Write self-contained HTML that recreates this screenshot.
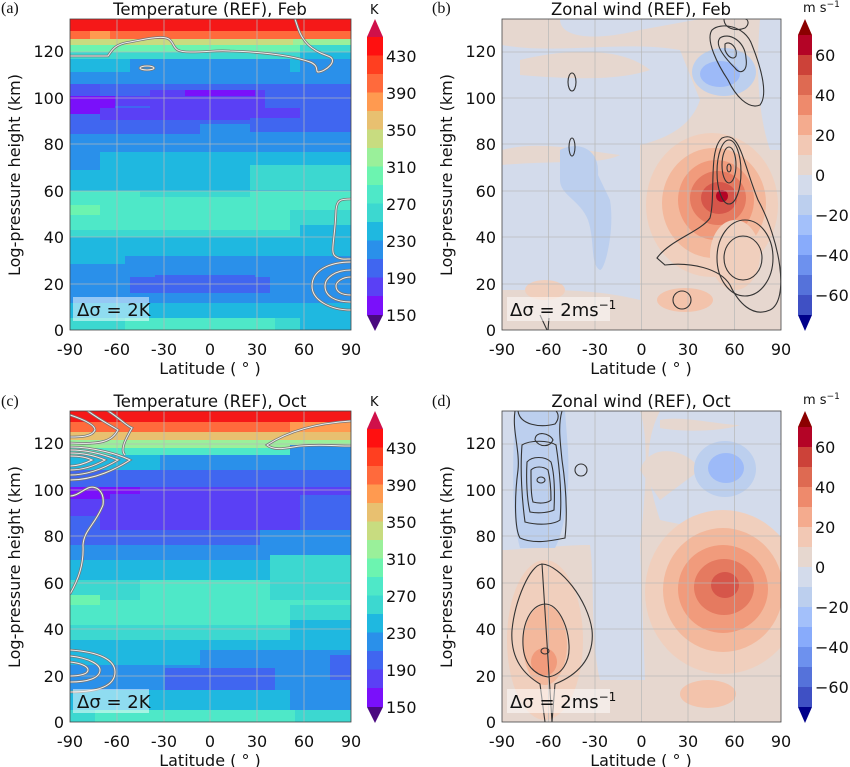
<!DOCTYPE html>
<html><head><meta charset="utf-8"><style>
html,body{margin:0;padding:0;background:#fff;}
svg{display:block;font-family:"DejaVu Sans","Liberation Sans",sans-serif;}
.t{font-size:16px;fill:#111;}
.ti{font-size:16.5px;fill:#111;}
.pl{font-family:"Liberation Serif",serif;font-size:16px;fill:#111;}
.g line{stroke:#b8b8b8;stroke-width:0.8;opacity:0.9}
.wc{fill:none;stroke:#333;stroke-width:1.1}
.tc{fill:none;stroke:#777;stroke-width:2.6}
.tc2{fill:none;stroke:#eee;stroke-width:1}
</style></head><body>
<svg width="850" height="767" viewBox="0 0 850 767" xmlns="http://www.w3.org/2000/svg">
<defs>
<clipPath id="ca"><rect x="70" y="19" width="281" height="311"/></clipPath>
<clipPath id="cb"><rect x="502" y="19" width="279" height="311"/></clipPath>
<clipPath id="cc"><rect x="70" y="411" width="281" height="311"/></clipPath>
<clipPath id="cd"><rect x="502" y="411" width="279" height="311"/></clipPath>
<g id="contA">
<path d="M70 56 L108 56 C112 50,115 44,130 42 C150 38,165 35,170 40 C176 46,172 52,190 52 C210 52,215 50,230 51 C260 52,290 55,310 62 C320 66,315 72,318 72 C325 72,340 60,328 56 C310 50,302 40,298 28 L295 19"/>
<ellipse cx="147" cy="68" rx="7" ry="2"/>
<path d="M351 199 C340 199,337 200,336 210 C335 240,330 252,335 256 C340 260,345 259,351 259"/>
<path d="M351 262 C330 262,312 270,312 286 C312 300,330 310,351 310"/>
<path d="M351 270 C335 270,325 278,325 286 C325 296,335 302,351 302"/>
<path d="M351 277 C342 277,336 282,336 286 C336 292,342 295,351 295"/>
</g>
<g id="contC">
<path d="M70 594 C78 580,84 565,83 545 C84 530,95 525,103 505 C105 490,95 485,88 488 C80 492,76 496,70 496"/>
<path d="M351 421 C320 423,290 430,267 445 C275 452,290 447,300 446 C320 444,335 446,351 446"/>
<path d="M70 447 C95 447,120 455,130 460 C118 468,95 480,70 480"/>
<path d="M70 450 C90 450,108 456,118 460 C108 466,90 475,70 475"/>
<path d="M70 453 C85 453,98 457,105 460 C98 464,85 470,70 470"/>
<path d="M70 456 C80 456,88 458,92 460 C88 462,80 466,70 466"/>
<path d="M85 409 C100 420,110 425,118 430 C112 440,105 445,70 443"/>
<path d="M105 409 C120 418,125 425,132 428 C125 440,120 450,125 455"/>
<path d="M70 415 C85 420,95 425,95 430 C92 437,80 437,70 437"/>
<path d="M70 650 C100 652,115 660,115 672 C115 685,100 692,70 692"/>
<path d="M70 656 C90 658,100 665,100 670 C100 678,88 682,70 682"/>
<path d="M70 662 C80 663,88 666,88 670 C88 674,80 676,70 676"/>
</g>
</defs>

<!-- ============ PANEL A ============ -->
<g clip-path="url(#ca)">
<rect x="70" y="19" width="281" height="12" fill="#f51818"/>
<rect x="70" y="31" width="281" height="8" fill="#ff6a3c"/>
<rect x="90" y="31" width="20" height="8" fill="#ff9a50"/>
<rect x="70" y="39" width="281" height="6" fill="#c8dc80"/>
<rect x="293" y="39" width="58" height="6" fill="#9af09a"/>
<rect x="70" y="45" width="281" height="7" fill="#6cf4b0"/>
<rect x="300" y="45" width="51" height="7" fill="#3cd8d0"/>
<rect x="70" y="52" width="281" height="7" fill="#3cd8d0"/>
<rect x="300" y="52" width="51" height="7" fill="#1fb8e0"/>
<rect x="70" y="59" width="281" height="13" fill="#1fb8e0"/>
<rect x="130" y="59" width="160" height="13" fill="#2a90ea"/>
<rect x="300" y="59" width="51" height="13" fill="#2a90ea"/>
<rect x="70" y="72" width="281" height="12" fill="#2a90ea"/>
<rect x="70" y="84" width="281" height="40" fill="#4066f0"/>
<rect x="70" y="84" width="30" height="12" fill="#4a55f2"/>
<rect x="70" y="96" width="45" height="18" fill="#7a10fa"/>
<rect x="115" y="96" width="40" height="10" fill="#5a40f5"/>
<rect x="150" y="90" width="115" height="18" fill="#5a40f5"/>
<rect x="185" y="90" width="70" height="6" fill="#7a10fa"/>
<rect x="100" y="108" width="200" height="12" fill="#5a40f5"/>
<rect x="70" y="124" width="281" height="20" fill="#2a90ea"/>
<rect x="70" y="124" width="130" height="10" fill="#4066f0"/>
<rect x="250" y="118" width="101" height="14" fill="#4066f0"/>
<rect x="70" y="144" width="281" height="26" fill="#2a90ea"/>
<rect x="100" y="152" width="251" height="18" fill="#1fb8e0"/>
<rect x="70" y="170" width="281" height="21" fill="#1fb8e0"/>
<rect x="250" y="165" width="101" height="25" fill="#3cd8d0"/>
<rect x="70" y="191" width="281" height="39" fill="#4ee8c8"/>
<rect x="140" y="191" width="110" height="6" fill="#3cd8d0"/>
<rect x="70" y="205" width="30" height="10" fill="#6cf4b0"/>
<rect x="290" y="210" width="61" height="20" fill="#3cd8d0"/>
<rect x="70" y="230" width="281" height="7" fill="#3cd8d0"/>
<rect x="300" y="225" width="51" height="12" fill="#1fb8e0"/>
<rect x="70" y="237" width="281" height="19" fill="#1fb8e0"/>
<rect x="70" y="256" width="281" height="21" fill="#2a90ea"/>
<rect x="70" y="256" width="55" height="8" fill="#1fb8e0"/>
<rect x="70" y="277" width="281" height="26" fill="#2a90ea"/>
<rect x="130" y="277" width="140" height="16" fill="#4066f0"/>
<rect x="155" y="275" width="100" height="6" fill="#4066f0"/>
<rect x="70" y="303" width="281" height="15" fill="#1fb8e0"/>
<rect x="70" y="318" width="281" height="12" fill="#3cd8d0"/>
<rect x="125" y="318" width="150" height="12" fill="#4ee8c8"/>
<rect x="300" y="313" width="51" height="17" fill="#1fb8e0"/>
</g>
<g class="g">
<line x1="117" y1="19" x2="117" y2="330"/><line x1="164" y1="19" x2="164" y2="330"/><line x1="210" y1="19" x2="210" y2="330"/><line x1="257" y1="19" x2="257" y2="330"/><line x1="304" y1="19" x2="304" y2="330"/>
<line x1="70" y1="52" x2="351" y2="52"/><line x1="70" y1="98" x2="351" y2="98"/><line x1="70" y1="144" x2="351" y2="144"/><line x1="70" y1="191" x2="351" y2="191"/><line x1="70" y1="237" x2="351" y2="237"/><line x1="70" y1="284" x2="351" y2="284"/>
</g>
<g clip-path="url(#ca)">
<use href="#contA" class="tc"/><use href="#contA" class="tc2"/>
<rect x="73" y="297" width="76" height="24" fill="#fff" opacity="0.5"/>
<text x="77" y="316" style="font-size:18px" fill="#111">Δσ = 2K</text>
</g>
<rect x="70" y="19" width="281" height="311" fill="none" stroke="#444" stroke-width="0.8"/>

<!-- ============ PANEL C ============ -->
<g clip-path="url(#cc)">
<rect x="70" y="409" width="281" height="13" fill="#f51818"/>
<rect x="70" y="422" width="281" height="10" fill="#ff6a3c"/>
<rect x="290" y="422" width="61" height="10" fill="#ff9a50"/>
<rect x="70" y="432" width="281" height="8" fill="#e8c070"/>
<rect x="70" y="440" width="281" height="8" fill="#9af09a"/>
<rect x="70" y="448" width="281" height="7" fill="#4ee8c8"/>
<rect x="290" y="445" width="61" height="10" fill="#2a90ea"/>
<rect x="70" y="455" width="281" height="15" fill="#1fb8e0"/>
<rect x="160" y="455" width="191" height="15" fill="#2a90ea"/>
<rect x="70" y="470" width="281" height="17" fill="#4066f0"/>
<rect x="70" y="487" width="281" height="43" fill="#5a40f5"/>
<rect x="70" y="487" width="40" height="12" fill="#7a10fa"/>
<rect x="110" y="487" width="30" height="7" fill="#7a10fa"/>
<rect x="300" y="495" width="51" height="35" fill="#4066f0"/>
<rect x="70" y="516" width="30" height="14" fill="#4066f0"/>
<rect x="70" y="530" width="281" height="15" fill="#4066f0"/>
<rect x="260" y="530" width="91" height="15" fill="#2a90ea"/>
<rect x="70" y="545" width="281" height="15" fill="#2a90ea"/>
<rect x="70" y="560" width="281" height="20" fill="#1fb8e0"/>
<rect x="270" y="555" width="81" height="25" fill="#3cd8d0"/>
<rect x="70" y="580" width="281" height="20" fill="#3cd8d0"/>
<rect x="140" y="580" width="130" height="20" fill="#4ee8c8"/>
<rect x="70" y="600" width="281" height="25" fill="#4ee8c8"/>
<rect x="70" y="595" width="30" height="10" fill="#6cf4b0"/>
<rect x="290" y="605" width="61" height="20" fill="#3cd8d0"/>
<rect x="70" y="625" width="281" height="15" fill="#3cd8d0"/>
<rect x="290" y="620" width="61" height="20" fill="#1fb8e0"/>
<rect x="70" y="640" width="281" height="25" fill="#1fb8e0"/>
<rect x="200" y="650" width="151" height="15" fill="#2a90ea"/>
<rect x="70" y="665" width="281" height="25" fill="#2a90ea"/>
<rect x="165" y="668" width="110" height="22" fill="#4066f0"/>
<rect x="330" y="655" width="21" height="25" fill="#4066f0"/>
<rect x="70" y="690" width="281" height="20" fill="#1fb8e0"/>
<rect x="290" y="690" width="61" height="20" fill="#2a90ea"/>
<rect x="70" y="710" width="281" height="12" fill="#3cd8d0"/>
<rect x="95" y="710" width="200" height="12" fill="#4ee8c8"/>
</g>
<g class="g">
<line x1="117" y1="411" x2="117" y2="722"/><line x1="164" y1="411" x2="164" y2="722"/><line x1="210" y1="411" x2="210" y2="722"/><line x1="257" y1="411" x2="257" y2="722"/><line x1="304" y1="411" x2="304" y2="722"/>
<line x1="70" y1="444" x2="351" y2="444"/><line x1="70" y1="490" x2="351" y2="490"/><line x1="70" y1="536" x2="351" y2="536"/><line x1="70" y1="583" x2="351" y2="583"/><line x1="70" y1="629" x2="351" y2="629"/><line x1="70" y1="676" x2="351" y2="676"/>
</g>
<g clip-path="url(#cc)">
<use href="#contC" class="tc"/><use href="#contC" class="tc2"/>
<rect x="73" y="689" width="76" height="24" fill="#fff" opacity="0.5"/>
<text x="77" y="708" style="font-size:18px" fill="#111">Δσ = 2K</text>
</g>
<rect x="70" y="411" width="281" height="311" fill="none" stroke="#444" stroke-width="0.8"/>

<!-- ============ PANEL B ============ -->
<g clip-path="url(#cb)">
<rect x="502" y="19" width="279" height="311" fill="#e6d7cf"/>
<path d="M502 19 L560 19 C560 40,600 40,640 30 L700 19 L502 19Z" fill="#d3dbeb"/>
<path d="M502 45 C560 55,620 40,680 50 L700 100 C690 130,660 140,640 145 L640 300 C600 290,560 290,540 290 L502 290Z" fill="#d3dbeb"/>
<path d="M520 60 C560 50,620 45,650 70 C620 80,580 80,520 75Z" fill="#e6d7cf"/>
<path d="M502 150 C540 140,580 150,620 155 C600 165,560 160,502 165Z" fill="#e6d7cf"/>
<path d="M760 19 L781 19 L781 150 L770 150 C760 120,755 80,760 19Z" fill="#d3dbeb"/>
<path d="M560 150 C580 140,600 150,598 175 L610 200 C615 230,605 270,600 270 C590 265,595 240,588 220 C580 200,560 195,560 180Z" fill="#bccfee"/>
<ellipse cx="724" cy="72" rx="32" ry="24" fill="#bccfee"/>
<ellipse cx="720" cy="74" rx="20" ry="13" fill="#9dbaf8"/>
<ellipse cx="712" cy="205" rx="66" ry="72" fill="#f0cfbd"/>
<ellipse cx="714" cy="203" rx="52" ry="55" fill="#f3b89c"/>
<ellipse cx="716" cy="200" rx="38" ry="40" fill="#f19b7c"/>
<ellipse cx="718" cy="198" rx="28" ry="27" fill="#e57a60"/>
<ellipse cx="719" cy="198" rx="18" ry="16" fill="#d6564a"/>
<ellipse cx="722" cy="196" rx="6" ry="6" fill="#b40426"/>
<ellipse cx="685" cy="300" rx="28" ry="12" fill="#f3c3ab"/>
<ellipse cx="545" cy="290" rx="20" ry="10" fill="#f0cfbd"/>
<ellipse cx="735" cy="255" rx="25" ry="35" fill="#f0cfbd"/>
</g>
<g class="g">
<line x1="548.5" y1="19" x2="548.5" y2="330"/><line x1="595" y1="19" x2="595" y2="330"/><line x1="641.5" y1="19" x2="641.5" y2="330"/><line x1="688" y1="19" x2="688" y2="330"/><line x1="734.5" y1="19" x2="734.5" y2="330"/>
<line x1="502" y1="52" x2="781" y2="52"/><line x1="502" y1="98" x2="781" y2="98"/><line x1="502" y1="144" x2="781" y2="144"/><line x1="502" y1="191" x2="781" y2="191"/><line x1="502" y1="237" x2="781" y2="237"/><line x1="502" y1="284" x2="781" y2="284"/>
</g>
<g clip-path="url(#cb)">
<path class="wc" d="M724 19 C724 28,735 32,745 28 C750 24,748 19,745 19"/>
<path class="wc" d="M712 30 C720 22,745 25,752 45 C762 70,768 95,760 105 C748 110,735 95,728 80 C718 65,705 40,712 30Z"/>
<path class="wc" d="M720 38 C728 32,745 40,746 58 C748 72,740 75,735 68 C725 58,714 45,720 38Z"/>
<path class="wc" d="M725 44 C730 40,738 48,736 56 C734 60,728 58,725 50Z"/>
<path class="wc" d="M657 258 C670 240,700 232,710 218 C716 195,708 150,722 138 C740 130,742 160,758 200 C780 240,790 300,770 310 C752 318,738 302,730 285 C720 268,690 262,665 265 Z"/>
<ellipse class="wc" cx="729" cy="172" rx="12" ry="32"/>
<ellipse class="wc" cx="729" cy="165" rx="7" ry="18"/>
<ellipse class="wc" cx="729" cy="168" rx="2" ry="4"/>
<ellipse class="wc" cx="745" cy="258" rx="28" ry="38"/>
<ellipse class="wc" cx="743" cy="258" rx="19" ry="22"/>
<ellipse class="wc" cx="682" cy="300" rx="9" ry="9"/>
<ellipse class="wc" cx="572" cy="82" rx="4" ry="9"/>
<ellipse class="wc" cx="572" cy="147" rx="3" ry="9"/>
<path class="wc" d="M540 315 L547 330 M549 318 L548 330"/>
<rect x="507" y="297" width="103" height="24" fill="#fff" opacity="0.5"/>
<text x="510" y="316" style="font-size:18px" fill="#111">Δσ = 2ms<tspan dy="-7" style="font-size:12px">−1</tspan></text>
</g>
<rect x="502" y="19" width="279" height="311" fill="none" stroke="#444" stroke-width="0.8"/>

<!-- ============ PANEL D ============ -->
<g clip-path="url(#cd)">
<rect x="502" y="411" width="279" height="311" fill="#e6d7cf"/>
<path d="M502 411 L640 411 C650 440,645 500,640 545 L645 680 L600 680 C590 640,595 580,590 545 C560 545,520 550,502 550Z" fill="#d3dbeb"/>
<path d="M660 411 L781 411 L781 540 C760 530,700 530,660 520 C650 490,640 450,660 411Z" fill="#d3dbeb"/>
<path d="M660 420 C680 415,720 425,740 425 C720 432,680 432,660 428Z" fill="#e6d7cf"/>
<path d="M515 411 L565 411 L568 450 C570 490,565 530,555 548 L520 548 C512 520,512 470,515 411Z" fill="#bccfee"/>
<path d="M640 470 C650 440,690 450,700 470 L660 500Z" fill="#e6d7cf"/>
<ellipse cx="725" cy="469" rx="31" ry="28" fill="#bccfee"/>
<ellipse cx="726" cy="468" rx="18" ry="15" fill="#9dbaf8"/>
<ellipse cx="723" cy="592" rx="78" ry="82" fill="#f0cfbd"/>
<ellipse cx="723" cy="590" rx="60" ry="62" fill="#f3b89c"/>
<ellipse cx="723" cy="589" rx="45" ry="44" fill="#f19b7c"/>
<ellipse cx="724" cy="587" rx="30" ry="28" fill="#e57a60"/>
<ellipse cx="725" cy="585" rx="14" ry="13" fill="#d6564a"/>
<ellipse cx="545" cy="640" rx="38" ry="80" fill="#f0cfbd"/>
<ellipse cx="545" cy="645" rx="22" ry="40" fill="#f3b89c"/>
<ellipse cx="544" cy="662" rx="13" ry="14" fill="#f19b7c"/>
<ellipse cx="708" cy="694" rx="28" ry="14" fill="#f3c3ab"/>
</g>
<g class="g">
<line x1="548.5" y1="411" x2="548.5" y2="722"/><line x1="595" y1="411" x2="595" y2="722"/><line x1="641.5" y1="411" x2="641.5" y2="722"/><line x1="688" y1="411" x2="688" y2="722"/><line x1="734.5" y1="411" x2="734.5" y2="722"/>
<line x1="502" y1="444" x2="781" y2="444"/><line x1="502" y1="490" x2="781" y2="490"/><line x1="502" y1="536" x2="781" y2="536"/><line x1="502" y1="583" x2="781" y2="583"/><line x1="502" y1="629" x2="781" y2="629"/><line x1="502" y1="676" x2="781" y2="676"/>
</g>
<g clip-path="url(#cd)">
<path class="wc" d="M515 411 C512 430,520 450,518 470 C514 500,515 530,520 538 C535 545,555 540,565 538 C568 510,565 480,562 460 C560 440,558 425,562 411"/>
<path class="wc" d="M522 445 C520 470,522 500,525 522 C540 526,555 524,560 520 C562 500,560 470,556 445 C548 440,530 440,522 445Z"/>
<path class="wc" d="M527 462 C526 480,527 500,530 512 C540 514,550 512,554 510 C555 490,554 472,551 462 C545 456,532 456,527 462Z"/>
<path class="wc" d="M531 470 C531 485,531 495,533 502 C540 504,548 503,551 500 C551 488,550 478,548 470 C543 466,535 466,531 470Z"/>
<ellipse class="wc" cx="541" cy="480" rx="4" ry="3"/>
<path class="wc" d="M518 411 C520 425,540 428,555 424 C560 418,558 413,556 411"/>
<path class="wc" d="M535 440 C535 430,550 433,553 440 C550 447,540 448,535 440Z"/>
<ellipse class="wc" cx="581" cy="470" rx="6" ry="6"/>
<path class="wc" d="M542 564 C530 565,515 600,512 630 C510 660,525 675,540 684 L545 722 M552 722 L555 684 C575 676,595 660,592 630 C588 600,560 565,542 564Z"/>
<path class="wc" d="M545 604 C530 605,522 625,523 645 C524 665,535 675,548 677 C562 675,570 662,569 645 C568 625,558 604,545 604Z"/>
<ellipse class="wc" cx="545" cy="651" rx="4" ry="3"/>
<rect x="507" y="689" width="103" height="24" fill="#fff" opacity="0.5"/>
<text x="510" y="708" style="font-size:18px" fill="#111">Δσ = 2ms<tspan dy="-7" style="font-size:12px">−1</tspan></text>
</g>
<rect x="502" y="411" width="279" height="311" fill="none" stroke="#444" stroke-width="0.8"/>

<!-- ============ COLORBARS ============ -->
<g id="cbT">
<polygon points="367,37 375,19 383,37" fill="#d0104a"/>
<rect x="367" y="37" width="16" height="18.5" fill="#ff1010"/>
<rect x="367" y="55.5" width="16" height="18.5" fill="#ff3f20"/>
<rect x="367" y="74" width="16" height="18.5" fill="#ff6a3c"/>
<rect x="367" y="92.5" width="16" height="18.5" fill="#ff9a50"/>
<rect x="367" y="111" width="16" height="18.5" fill="#e8c070"/>
<rect x="367" y="129.5" width="16" height="18.5" fill="#c8dc80"/>
<rect x="367" y="148" width="16" height="18.5" fill="#9af09a"/>
<rect x="367" y="166.5" width="16" height="18.5" fill="#6cf4b0"/>
<rect x="367" y="185" width="16" height="18.5" fill="#4ee8c8"/>
<rect x="367" y="203.5" width="16" height="18.5" fill="#3cd8d0"/>
<rect x="367" y="222" width="16" height="18.5" fill="#1fb8e0"/>
<rect x="367" y="240.5" width="16" height="18.5" fill="#2a90ea"/>
<rect x="367" y="259" width="16" height="18.5" fill="#4066f0"/>
<rect x="367" y="277.5" width="16" height="18.5" fill="#5a40f5"/>
<rect x="367" y="296" width="16" height="19" fill="#7a10fa"/>
<polygon points="367,315 375,331 383,315" fill="#4a0a80"/>
</g>
<g class="t">
<text x="386" y="62">430</text><text x="386" y="99">390</text><text x="386" y="136">350</text><text x="386" y="173">310</text><text x="386" y="210">270</text><text x="386" y="247">230</text><text x="386" y="284">190</text><text x="386" y="321">150</text>
</g>
<text x="370" y="14" style="font-size:13px" fill="#111">K</text>
<use href="#cbT" y="392"/>
<g class="t" transform="translate(0,392)">
<text x="386" y="62">430</text><text x="386" y="99">390</text><text x="386" y="136">350</text><text x="386" y="173">310</text><text x="386" y="210">270</text><text x="386" y="247">230</text><text x="386" y="284">190</text><text x="386" y="321">150</text>
</g>
<text x="370" y="406" style="font-size:13px" fill="#111">K</text>

<g id="cbW">
<polygon points="798,35 805,19 812,35" fill="#8b0000"/>
<rect x="798" y="35" width="14" height="20" fill="#b40426"/>
<rect x="798" y="55" width="14" height="20" fill="#cc4239"/>
<rect x="798" y="75" width="14" height="20" fill="#de6a52"/>
<rect x="798" y="95" width="14" height="20" fill="#ee8a6c"/>
<rect x="798" y="115" width="14" height="20" fill="#f4ab8e"/>
<rect x="798" y="135" width="14" height="20" fill="#f2c8b4"/>
<rect x="798" y="155" width="14" height="20" fill="#e6d7cf"/>
<rect x="798" y="175" width="14" height="20" fill="#d3dbeb"/>
<rect x="798" y="195" width="14" height="20" fill="#bccfee"/>
<rect x="798" y="215" width="14" height="20" fill="#a3c0fa"/>
<rect x="798" y="235" width="14" height="20" fill="#88abfb"/>
<rect x="798" y="255" width="14" height="20" fill="#6d91ee"/>
<rect x="798" y="275" width="14" height="20" fill="#5572da"/>
<rect x="798" y="295" width="14" height="20" fill="#3f50c4"/>
<polygon points="798,315 805,331 812,315" fill="#00008b"/>
</g>
<g class="t">
<text x="815" y="61">60</text><text x="815" y="101">40</text><text x="815" y="141">20</text><text x="815" y="181">0</text><text x="815" y="221">−20</text><text x="815" y="261">−40</text><text x="815" y="301">−60</text>
</g>
<text x="803" y="12" style="font-size:13px" fill="#111">m s<tspan dy="-5" style="font-size:9px">−1</tspan></text>
<use href="#cbW" y="392"/>
<g class="t" transform="translate(0,392)">
<text x="815" y="61">60</text><text x="815" y="101">40</text><text x="815" y="141">20</text><text x="815" y="181">0</text><text x="815" y="221">−20</text><text x="815" y="261">−40</text><text x="815" y="301">−60</text>
</g>
<text x="803" y="404" style="font-size:13px" fill="#111">m s<tspan dy="-5" style="font-size:9px">−1</tspan></text>

<!-- ============ AXES LABELS ============ -->
<g id="axA">
<g class="t" text-anchor="end">
<text x="64" y="57">120</text><text x="64" y="104">100</text><text x="64" y="150">80</text><text x="64" y="197">60</text><text x="64" y="243">40</text><text x="64" y="290">20</text><text x="64" y="336">0</text>
</g>
<g class="t" text-anchor="middle">
<text x="70" y="355">-90</text><text x="117" y="355">-60</text><text x="164" y="355">-30</text><text x="210" y="355">0</text><text x="257" y="355">30</text><text x="304" y="355">60</text><text x="351" y="355">90</text>
<text x="210" y="374">Latitude ( ° )</text>
</g>
<text class="t" transform="translate(20,175) rotate(-90)" text-anchor="middle">Log-pressure height (km)</text>
</g>
<use href="#axA" y="392"/>
<g id="axB">
<g class="t" text-anchor="end">
<text x="496" y="57">120</text><text x="496" y="104">100</text><text x="496" y="150">80</text><text x="496" y="197">60</text><text x="496" y="243">40</text><text x="496" y="290">20</text><text x="496" y="336">0</text>
</g>
<g class="t" text-anchor="middle">
<text x="502" y="355">-90</text><text x="548.5" y="355">-60</text><text x="595" y="355">-30</text><text x="641.5" y="355">0</text><text x="688" y="355">30</text><text x="734.5" y="355">60</text><text x="781" y="355">90</text>
<text x="641" y="374">Latitude ( ° )</text>
</g>
<text class="t" transform="translate(452,175) rotate(-90)" text-anchor="middle">Log-pressure height (km)</text>
</g>
<use href="#axB" y="392"/>

<text class="ti" x="210" y="15" text-anchor="middle">Temperature (REF), Feb</text>
<text class="ti" x="641" y="15" text-anchor="middle">Zonal wind (REF), Feb</text>
<text class="ti" x="210" y="407" text-anchor="middle">Temperature (REF), Oct</text>
<text class="ti" x="641" y="407" text-anchor="middle">Zonal wind (REF), Oct</text>
<text class="pl" x="1" y="13">(a)</text>
<text class="pl" x="432" y="13">(b)</text>
<text class="pl" x="1" y="406">(c)</text>
<text class="pl" x="432" y="406">(d)</text>
</svg>
</body></html>
